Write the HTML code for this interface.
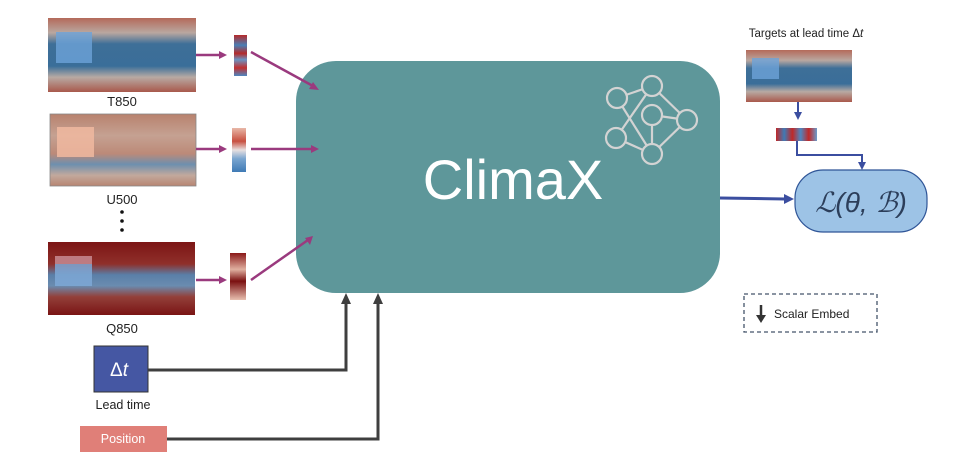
<!DOCTYPE html>
<html><head><meta charset="utf-8"><style>
html,body{margin:0;padding:0;background:#fff;}
svg{display:block;}
text{font-family:"Liberation Sans",sans-serif;}
</style></head><body>
<svg width="970" height="468" viewBox="0 0 970 468" xmlns="http://www.w3.org/2000/svg">
<defs>
<linearGradient id="gT" x1="0" y1="0" x2="0" y2="1">
<stop offset="0" stop-color="#b46a5a"/><stop offset="0.2" stop-color="#b9a7a0"/><stop offset="0.35" stop-color="#3e6f98"/><stop offset="0.65" stop-color="#3a6e99"/><stop offset="0.8" stop-color="#b8aaa3"/><stop offset="1" stop-color="#a9594c"/></linearGradient>
<linearGradient id="gU" x1="0" y1="0" x2="0" y2="1">
<stop offset="0" stop-color="#b8826e"/><stop offset="0.3" stop-color="#c5a192"/><stop offset="0.55" stop-color="#bc8a78"/><stop offset="0.7" stop-color="#6d8fae"/><stop offset="0.85" stop-color="#c2a99d"/><stop offset="1" stop-color="#b88572"/></linearGradient>
<linearGradient id="gQ" x1="0" y1="0" x2="0" y2="1">
<stop offset="0" stop-color="#7c1515"/><stop offset="0.3" stop-color="#8f2f2a"/><stop offset="0.45" stop-color="#5a7fa8"/><stop offset="0.6" stop-color="#6a8cb0"/><stop offset="0.75" stop-color="#93403a"/><stop offset="1" stop-color="#7a1414"/></linearGradient>
<linearGradient id="gS1" x1="0" y1="0" x2="0" y2="1">
<stop offset="0" stop-color="#b52a2a"/><stop offset="0.25" stop-color="#4a7fb5"/><stop offset="0.45" stop-color="#b52a2a"/><stop offset="0.6" stop-color="#6b95c4"/><stop offset="0.8" stop-color="#c03030"/><stop offset="1" stop-color="#4d86c0"/></linearGradient>
<linearGradient id="gS2" x1="0" y1="0" x2="0" y2="1">
<stop offset="0" stop-color="#e8b8a8"/><stop offset="0.3" stop-color="#c85040"/><stop offset="0.5" stop-color="#e8e0e0"/><stop offset="0.7" stop-color="#7aa5d0"/><stop offset="1" stop-color="#3f7ab5"/></linearGradient>
<linearGradient id="gS3" x1="0" y1="0" x2="0" y2="1">
<stop offset="0" stop-color="#8a1818"/><stop offset="0.35" stop-color="#e0b0a0"/><stop offset="0.6" stop-color="#7a1010"/><stop offset="1" stop-color="#e8c0b0"/></linearGradient>
<linearGradient id="gS4" x1="0" y1="0" x2="1" y2="0">
<stop offset="0" stop-color="#c02828"/><stop offset="0.2" stop-color="#3f7ab5"/><stop offset="0.4" stop-color="#c02828"/><stop offset="0.6" stop-color="#4d86c0"/><stop offset="0.8" stop-color="#c02828"/><stop offset="1" stop-color="#6b9ccc"/></linearGradient>
</defs>

<!-- maps -->
<rect x="48" y="18" width="148" height="74" fill="url(#gT)"/>
<rect x="56" y="32" width="36" height="31" fill="#6da3d8" opacity="0.8"/>
<rect x="50" y="114" width="146" height="72" fill="url(#gU)" stroke="#888" stroke-width="0.8"/>
<rect x="57" y="127" width="37" height="30" fill="#f0b8a0" opacity="0.85"/>
<rect x="48" y="242" width="147" height="73" fill="url(#gQ)"/>
<rect x="55" y="256" width="37" height="30" fill="#7ea8d6" opacity="0.85"/>
<rect x="55" y="256" width="37" height="8" fill="#e86a5a" opacity="0.6"/>

<text x="122" y="106" font-size="13" text-anchor="middle" fill="#222">T850</text>
<text x="122" y="204" font-size="13" text-anchor="middle" fill="#222">U500</text>
<circle cx="122" cy="212" r="1.8" fill="#111"/><circle cx="122" cy="221" r="1.8" fill="#111"/><circle cx="122" cy="230" r="1.8" fill="#111"/>
<text x="122" y="333" font-size="13" text-anchor="middle" fill="#222">Q850</text>

<!-- strips -->
<rect x="234" y="35" width="13" height="41" fill="url(#gS1)"/>
<rect x="232" y="128" width="14" height="44" fill="url(#gS2)"/>
<rect x="230" y="253" width="16" height="47" fill="url(#gS3)"/>

<!-- main box -->
<rect x="296" y="61" width="424" height="232" rx="40" fill="#5e979a"/>
<text x="513" y="199" font-size="56" text-anchor="middle" fill="#fff">ClimaX</text>
<g stroke="#d3d3d3" stroke-width="2.2" fill="none">
<line x1="617" y1="98" x2="652" y2="86"/><line x1="617" y1="98" x2="652" y2="154"/>
<line x1="652" y1="86" x2="616" y2="138"/><line x1="652" y1="86" x2="687" y2="120"/>
<line x1="652" y1="115" x2="687" y2="120"/><line x1="652" y1="115" x2="652" y2="154"/>
<line x1="616" y1="138" x2="652" y2="154"/><line x1="652" y1="154" x2="687" y2="120"/>
<g fill="#5e979a">
<circle cx="617" cy="98" r="10"/><circle cx="652" cy="86" r="10"/><circle cx="652" cy="115" r="10"/>
<circle cx="687" cy="120" r="10"/><circle cx="616" cy="138" r="10"/><circle cx="652" cy="154" r="10"/>
</g></g>

<!-- purple arrows -->
<g stroke="#9a3a7e" stroke-width="2.5" fill="#9a3a7e">
<line x1="196" y1="55" x2="223" y2="55"/><polygon points="227,55 219,51 219,59" stroke="none"/>
<line x1="196" y1="149" x2="223" y2="149"/><polygon points="227,149 219,145 219,153" stroke="none"/>
<line x1="196" y1="280" x2="223" y2="280"/><polygon points="227,280 219,276 219,284" stroke="none"/>
<line x1="251" y1="52" x2="313" y2="86"/><polygon points="319,90 309,89 313,82" stroke="none"/>
<line x1="251" y1="149" x2="313" y2="149"/><polygon points="319,149 311,145 311,153" stroke="none"/>
<line x1="251" y1="280" x2="308" y2="240"/><polygon points="313,236 305,238 310,245" stroke="none"/>
</g>

<!-- right side -->
<text x="806" y="37" font-size="11.5" text-anchor="middle" fill="#222">Targets at lead time Δ<tspan font-style="italic">t</tspan></text>
<rect x="746" y="50" width="106" height="52" fill="url(#gT)"/>
<rect x="752" y="58" width="27" height="21" fill="#6da3d8" opacity="0.8"/>
<g stroke="#3b4ea0" stroke-width="2" fill="#3b4ea0">
<line x1="798" y1="102" x2="798" y2="114"/><polygon points="798,120 794,112 802,112" stroke="none"/>
<polyline points="797,141 797,155 862,155 862,164" fill="none"/><polygon points="862,170 858,162 866,162" stroke="none"/>
<line x1="720" y1="198" x2="785" y2="199" stroke-width="3"/><polygon points="794,199 784,194 784,204" stroke="none"/>
</g>
<rect x="776" y="128" width="41" height="13" fill="url(#gS4)"/>
<rect x="795" y="170" width="132" height="62" rx="28" fill="#9dc3e6" stroke="#2f5597" stroke-width="1.2"/>
<text x="861" y="212" font-size="28" text-anchor="middle" fill="#2c3e5a" font-family="Liberation Serif,serif" font-style="italic">ℒ(θ, ℬ)</text>

<rect x="744" y="294" width="133" height="38" fill="none" stroke="#44546a" stroke-width="1.3" stroke-dasharray="4,3"/>
<line x1="761" y1="305" x2="761" y2="316" stroke="#333" stroke-width="2.5"/>
<polygon points="756,315 766,315 761,323" fill="#333"/>
<text x="774" y="318" font-size="12" fill="#222">Scalar Embed</text>

<!-- bottom -->
<rect x="94" y="346" width="54" height="46" fill="#4557a3" stroke="#333" stroke-width="1"/>
<text x="119" y="376" font-size="19" text-anchor="middle" fill="#fff" font-family="Liberation Serif,serif">Δ<tspan font-style="italic">t</tspan></text>
<text x="123" y="409" font-size="12.5" text-anchor="middle" fill="#222">Lead time</text>
<rect x="80" y="426" width="87" height="26" fill="#e07f78"/>
<text x="123" y="443" font-size="12.5" text-anchor="middle" fill="#fff">Position</text>
<g stroke="#3f3f3f" stroke-width="3" fill="none">
<polyline points="148,370 346,370 346,302"/>
<polyline points="167,439 378,439 378,302"/>
</g>
<polygon points="346,293 341,304 351,304" fill="#3f3f3f"/>
<polygon points="378,293 373,304 383,304" fill="#3f3f3f"/>
</svg>
</body></html>
